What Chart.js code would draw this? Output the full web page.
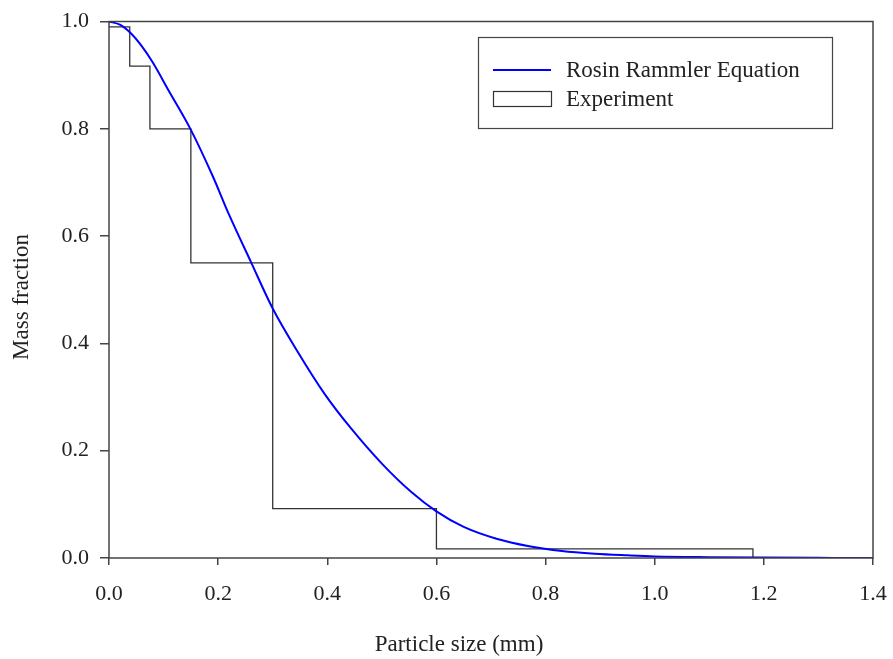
<!DOCTYPE html>
<html>
<head>
<meta charset="utf-8">
<script src="https://cdn.jsdelivr.net/npm/chart.js@4/dist/chart.umd.min.js"></script>
<style>
  html, body { margin: 0; padding: 0; background: #fff; }
  #wrap { width: 893px; height: 659px; }
</style>
</head>
<body>
<div id="wrap"><canvas id="chart" width="893" height="659"></canvas></div>
<script>
// fitted Rosin-Rammler curve, mass fraction vs particle size (mm)
const sizeMm = [0, 0.02, 0.04, 0.06, 0.08, 0.11, 0.15, 0.19, 0.22, 0.26, 0.3, 0.346, 0.395,
  0.444, 0.5, 0.554, 0.6, 0.65, 0.71, 0.77, 0.83, 0.89, 0.95, 1.0, 1.1, 1.2, 1.3, 1.4];
const rosinRammler = [1.0, 0.994, 0.978, 0.954, 0.924, 0.870, 0.798, 0.712, 0.640, 0.552, 0.465, 0.384, 0.306,
  0.241, 0.176, 0.123, 0.087, 0.058, 0.036, 0.022, 0.013, 0.008, 0.005, 0.003, 0.0015, 0.0007, 0.0003, 0.0001];

// sieve analysis, retained fraction per sieve opening
const sieveMm = [0, 0.038, 0.075, 0.15, 0.3, 0.6, 1.18];
const retained = [0.99, 0.917, 0.80, 0.55, 0.092, 0.017, 0];

const xTicks = [0, 0.2, 0.4, 0.6, 0.8, 1.0, 1.2, 1.4];
const yTicks = [0, 0.2, 0.4, 0.6, 0.8, 1.0];

const SERIF = '"Liberation Serif", "Times New Roman", serif';
const INK = '#222';
const AXIS = '#444';

const pts = (xs, ys) => xs.map((x, i) => ({ x: x, y: ys[i] }));

const frame = {
  id: 'frame',
  afterDatasetsDraw(chart) {
    const a = chart.chartArea, ctx = chart.ctx;
    ctx.save();
    ctx.strokeStyle = AXIS;
    ctx.lineWidth = 1.5;
    ctx.strokeRect(a.left, a.top, a.right - a.left, a.bottom - a.top);
    ctx.restore();
  }
};

const axisTitles = {
  id: 'axisTitles',
  afterDraw(chart) {
    const ctx = chart.ctx;
    ctx.save();
    ctx.fillStyle = INK;
    ctx.font = '23px ' + SERIF;
    ctx.textAlign = 'center';
    ctx.textBaseline = 'middle';
    ctx.fillText('Particle size (mm)', 459, 645);
    ctx.translate(22, 297);
    ctx.rotate(-Math.PI / 2);
    ctx.fillText('Mass fraction', 0, 0);
    ctx.restore();
  }
};

const boxLegend = {
  id: 'boxLegend',
  afterDraw(chart) {
    const ctx = chart.ctx;
    const ds = chart.data.datasets;
    ctx.save();
    ctx.fillStyle = '#fff';
    ctx.fillRect(478, 37, 354, 91);
    ctx.strokeStyle = AXIS;
    ctx.lineWidth = 1.2;
    ctx.strokeRect(478.5, 37.5, 354, 91);

    // line sample
    ctx.strokeStyle = ds[0].borderColor;
    ctx.lineWidth = 2;
    ctx.beginPath();
    ctx.moveTo(493, 70);
    ctx.lineTo(551, 70);
    ctx.stroke();
    // box sample
    ctx.strokeStyle = ds[1].borderColor;
    ctx.lineWidth = 1.2;
    ctx.strokeRect(493.5, 91.5, 58, 15);

    ctx.fillStyle = INK;
    ctx.font = '23px ' + SERIF;
    ctx.textAlign = 'left';
    ctx.textBaseline = 'alphabetic';
    ctx.fillText(ds[0].label, 566, 77);
    ctx.fillText(ds[1].label, 566, 106);
    ctx.restore();
  }
};

new Chart(document.getElementById('chart'), {
  type: 'line',
  data: {
    datasets: [
      {
        label: 'Rosin Rammler Equation',
        data: pts(sizeMm, rosinRammler),
        borderColor: '#0000ff',
        borderWidth: 2,
        pointRadius: 0,
        cubicInterpolationMode: 'monotone',
        fill: false
      },
      {
        label: 'Experiment',
        data: pts(sieveMm, retained),
        borderColor: '#333',
        borderWidth: 1.3,
        pointRadius: 0,
        stepped: 'before',
        fill: false
      }
    ]
  },
  options: {
    responsive: false,
    devicePixelRatio: 1,
    animation: false,
    layout: { padding: { top: 21.5, right: 20, left: 0, bottom: 0 } },
    plugins: {
      legend: { display: false },
      tooltip: { enabled: false },
      title: { display: false }
    },
    scales: {
      x: {
        type: 'linear',
        min: 0,
        max: 1.4,
        afterBuildTicks: s => { s.ticks = xTicks.map(v => ({ value: v })); },
        afterFit: s => { s.height = 101; s.paddingLeft = 0; s.paddingRight = 0; },
        border: { display: false },
        grid: { drawOnChartArea: false, drawTicks: true, tickLength: 7, color: AXIS, lineWidth: 1.5 },
        ticks: {
          color: INK,
          padding: 16,
          maxRotation: 0,
          font: { family: SERIF, size: 22 },
          callback: v => Number(v).toFixed(1)
        }
      },
      y: {
        type: 'linear',
        min: 0,
        max: 1.0,
        afterBuildTicks: s => { s.ticks = yTicks.map(v => ({ value: v })); },
        afterFit: s => { s.width = 109; s.paddingTop = 0; s.paddingBottom = 0; },
        border: { display: false },
        grid: { drawOnChartArea: false, drawTicks: true, tickLength: 9, color: AXIS, lineWidth: 1.5 },
        ticks: {
          color: INK,
          padding: 11,
          font: { family: SERIF, size: 22 },
          callback: v => Number(v).toFixed(1)
        }
      }
    }
  },
  plugins: [frame, axisTitles, boxLegend]
});
</script>
</body>
</html>
